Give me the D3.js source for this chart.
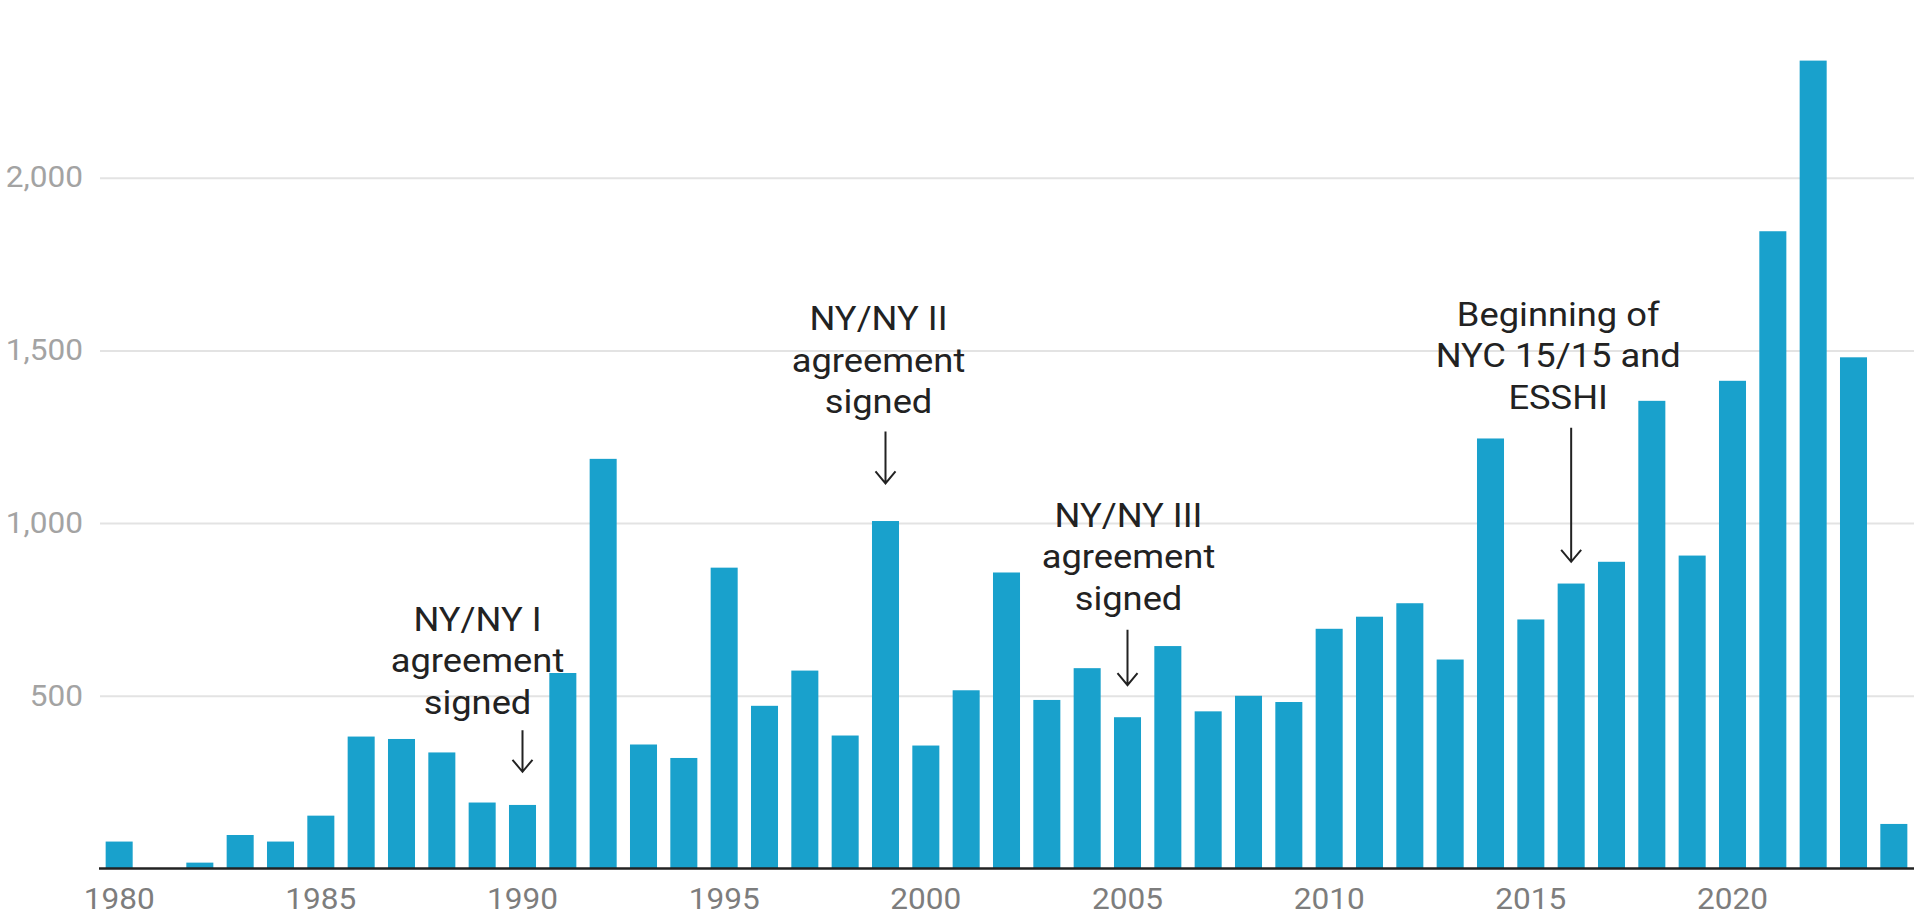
<!DOCTYPE html>
<html>
<head>
<meta charset="utf-8">
<script src="https://cdn.jsdelivr.net/npm/d3@7"></script>
<style>
  body { margin: 0; background: #fff; }
  text { font-family: Roboto, "Noto Sans", sans-serif; }
</style>
</head>
<body>
<div id="graph"></div>
<script>
// data
var years = [1980, 1981, 1982, 1983, 1984, 1985, 1986, 1987, 1988, 1989,
  1990, 1991, 1992, 1993, 1994, 1995, 1996, 1997, 1998, 1999,
  2000, 2001, 2002, 2003, 2004, 2005, 2006, 2007, 2008, 2009,
  2010, 2011, 2012, 2013, 2014, 2015, 2016, 2017, 2018, 2019,
  2020, 2021, 2022, 2023, 2024];
var units = [78, 0, 17, 97, 78, 153, 382, 375, 336, 191,
  184, 566, 1186, 359, 320, 871, 471, 573, 385, 1006,
  356, 516, 857, 488, 580, 438, 644, 455, 500, 482,
  694, 729, 768, 605, 1245, 721, 825, 888, 1354, 906,
  1412, 1845, 2339, 1480, 129];
var yTicks = [500, 1000, 1500, 2000];
var xTicks = [1980, 1985, 1990, 1995, 2000, 2005, 2010, 2015, 2020];

// annotations: year, text lines, arrow from/to (in units)
var notes = [
  {year: 1990, lines: ["NY/NY I", "agreement", "signed"], from: 400, to: 280, dx: -45, base: 688},
  {year: 1999, lines: ["NY/NY II", "agreement", "signed"], from: 1265, to: 1115, dx: -7, base: 1559},
  {year: 2005, lines: ["NY/NY III", "agreement", "signed"], from: 691, to: 531, dx: 1, base: 990},
  {year: 2016, lines: ["Beginning of", "NYC 15/15 and", "ESSHI"], from: 1276, to: 888, dx: -13, base: 1572}
];

var W = 1921, H = 923;
var margin = {top: 5, right: 7, bottom: 54.5, left: 99};

var svg = d3.select("#graph").append("svg")
  .attr("width", W)
  .attr("height", H);

var x = d3.scaleBand()
  .domain(years)
  .range([margin.left, W - margin.right])
  .paddingInner(0.33)
  .paddingOuter(0.165);

var y = d3.scaleLinear()
  .domain([0, 2500])
  .range([H - margin.bottom, margin.top]);

// gridlines + y labels
var yAxis = svg.append("g")
  .attr("transform", "translate(" + (margin.left + 1) + ",0)")
  .call(d3.axisLeft(y).tickValues(yTicks).tickSize(-(W - margin.right - margin.left - 1)).tickPadding(15.5)
    .tickFormat(d3.format(",")));
yAxis.select(".domain").remove();
yAxis.selectAll(".tick line").attr("stroke", "#e3e3e3").attr("stroke-width", 2);
yAxis.selectAll(".tick text")
  .attr("fill", "#a3a3a3")
  .attr("transform", "scale(1.09,1)")
  .style("font-size", "29px");

// bars
svg.selectAll(".bar")
  .data(years)
  .enter().append("rect")
  .attr("class", "bar")
  .attr("x", function(d) { return x(d); })
  .attr("width", x.bandwidth())
  .attr("y", function(d, i) { return y(units[i]); })
  .attr("height", function(d, i) { return y(0) - y(units[i]); })
  .attr("fill", "#19a1cc");

// x axis
var xAxis = svg.append("g")
  .attr("transform", "translate(0," + y(0) + ")")
  .call(d3.axisBottom(x).tickValues(xTicks).tickSize(0).tickPadding(20));
xAxis.select(".domain").attr("stroke", "#222").attr("stroke-width", 2.5)
  .attr("d", "M" + margin.left + ",0H" + (W - margin.right));
xAxis.selectAll(".tick text")
  .attr("fill", "#7d7d7d")
  .attr("transform", "scale(1.09,1)")
  .style("font-size", "29px");

// annotations
var lineH = 41.5;
var ann = svg.append("g").attr("class", "notes");
notes.forEach(function(n) {
  var cx = x(n.year) + x.bandwidth() / 2;
  var b0 = y(n.base);
  n.lines.forEach(function(l, i) {
    ann.append("text")
      .attr("text-anchor", "middle")
      .attr("fill", "#222")
      .attr("transform", "translate(" + (cx + n.dx) + "," + (b0 + i * lineH) + ") scale(1.1,1)")
      .style("font-size", "33px")
      .text(l);
  });
  var y1 = y(n.from), y2 = y(n.to);
  ann.append("path")
    .attr("d", "M" + cx + "," + y1 + "V" + y2 + "M" + (cx - 10) + "," + (y2 - 12) + "L" + cx + "," + y2 + "L" + (cx + 10) + "," + (y2 - 12))
    .attr("fill", "none")
    .attr("stroke", "#222")
    .attr("stroke-width", 2);
});
</script>
</body>
</html>
